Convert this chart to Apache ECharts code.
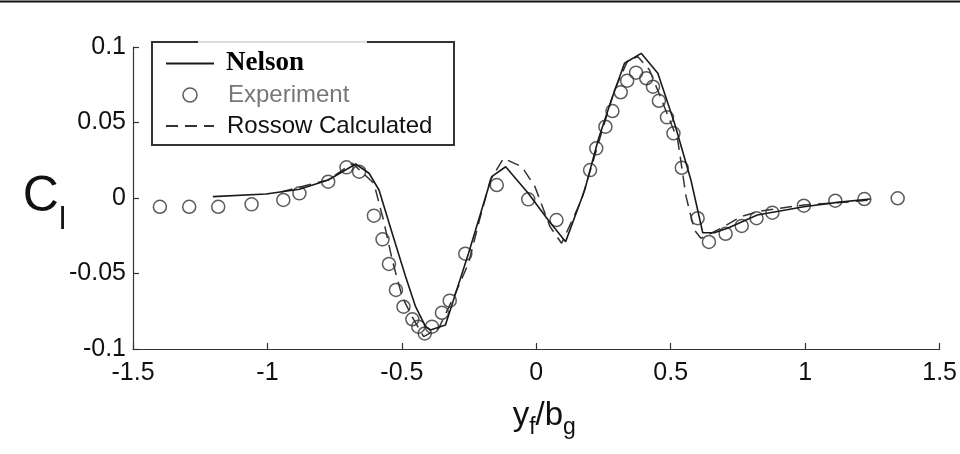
<!DOCTYPE html>
<html>
<head>
<meta charset="utf-8">
<script src="https://cdn.jsdelivr.net/npm/echarts@6/dist/echarts.min.js"></script>
<style>
html,body{margin:0;padding:0;background:#fff;}
#c{width:960px;height:454px;}
</style>
</head>
<body>
<div id="c"></div>
<script>
// Experiment (circles)
var expX = [-1.400,-1.291,-1.183,-1.059,-0.941,-0.881,-0.774,-0.706,-0.659,-0.604,-0.572,-0.548,-0.522,-0.494,-0.461,-0.439,-0.415,-0.388,-0.351,-0.322,-0.264,-0.147,-0.030,0.075,0.200,0.223,0.257,0.283,0.314,0.338,0.371,0.409,0.434,0.456,0.486,0.510,0.541,0.600,0.642,0.704,0.764,0.819,0.878,0.995,1.112,1.220,1.344];
var expY = [-0.0058,-0.0058,-0.0058,-0.0042,-0.0013,0.0031,0.0108,0.0203,0.0174,-0.0117,-0.0274,-0.0437,-0.0609,-0.0720,-0.0803,-0.0852,-0.0897,-0.0852,-0.0760,-0.0680,-0.0369,0.0086,-0.0009,-0.0146,0.0185,0.0329,0.0472,0.0576,0.0700,0.0777,0.0830,0.0793,0.0737,0.0644,0.0534,0.0428,0.0200,-0.0134,-0.0291,-0.0237,-0.0185,-0.0134,-0.0097,-0.0051,-0.0018,-0.0007,-0.0002];
// Nelson (solid)
var nelsonX = [-1.203,-1.005,-0.881,-0.774,-0.705,-0.672,-0.622,-0.585,-0.536,-0.486,-0.449,-0.412,-0.394,-0.338,-0.252,-0.166,-0.114,-0.030,0.044,0.109,0.180,0.230,0.279,0.328,0.390,0.452,0.514,0.575,0.619,0.662,0.711,0.822,0.995,1.119,1.242];
var nelsonY = [0.0009,0.0026,0.0058,0.0119,0.0190,0.0225,0.0164,0.0053,-0.0234,-0.0521,-0.0720,-0.0852,-0.0874,-0.0841,-0.0366,0.0141,0.0207,0.0031,-0.0146,-0.0289,0.0053,0.0384,0.0649,0.0892,0.0958,0.0826,0.0495,0.0119,-0.0230,-0.0230,-0.0201,-0.0113,-0.0058,-0.0029,-0.0007];
// Rossow Calculated (dashed)
var rossowX = [-0.950,-0.774,-0.684,-0.604,-0.567,-0.536,-0.499,-0.462,-0.419,-0.363,-0.301,-0.252,-0.212,-0.171,-0.122,-0.054,-0.005,0.051,0.094,0.168,0.242,0.291,0.341,0.378,0.421,0.526,0.557,0.588,0.612,0.686,0.760,0.834,0.995,1.168,1.240];
var rossowY = [0.0040,0.0120,0.0230,0.0097,-0.0157,-0.0410,-0.0654,-0.0786,-0.0918,-0.0863,-0.0631,-0.0432,-0.0150,0.0119,0.0263,0.0207,0.0075,-0.0190,-0.0300,-0.0013,0.0428,0.0715,0.0914,0.0936,0.0848,0.0384,0.0009,-0.0212,-0.0267,-0.0201,-0.0124,-0.0086,-0.0046,-0.0025,-0.0013];
var seriesNames = ['Nelson','Experiment','Rossow Calculated'];

function zip(xs, ys){ return xs.map(function(x,i){ return [x, ys[i]]; }); }

var SANS = 'Liberation Sans, Arial, Helvetica, sans-serif';
var tickFont = {fontFamily:SANS, fontSize:25, color:'#111'};

var chart = echarts.init(document.getElementById('c'), null, {renderer:'canvas'});
chart.setOption({
  animation:false,
  backgroundColor:'#fff',
  grid:{left:133, right:17, top:47, bottom:105, containLabel:false},
  xAxis:{
    type:'value', min:-1.5, max:1.5, interval:0.5,
    axisLine:{show:true, onZero:false, lineStyle:{color:'#333', width:1.2}},
    axisTick:{show:true, inside:true, length:6, lineStyle:{color:'#333', width:1.2}},
    splitLine:{show:false},
    axisLabel:Object.assign({margin:12}, tickFont),
    name:'{m|y}{s|f}{m|/b}{s|g}',
    nameLocation:'middle', nameGap:56,
    nameTextStyle:{padding:[0,0,0,16], rich:{
      m:{fontFamily:SANS, fontSize:33, color:'#111', lineHeight:34, padding:[0,0,7,0], verticalAlign:'bottom'},
      s:{fontFamily:SANS, fontSize:23, color:'#111', lineHeight:23, verticalAlign:'bottom'}
    }}
  },
  yAxis:{
    type:'value', min:-0.1, max:0.1, interval:0.05,
    axisLine:{show:true, onZero:false, lineStyle:{color:'#333', width:1.2}},
    axisTick:{show:true, inside:true, length:6, lineStyle:{color:'#333', width:1.2}},
    splitLine:{show:false},
    axisLabel:Object.assign({margin:7}, tickFont),
    name:'{m|C}{s|l}',
    nameLocation:'middle', nameGap:67, nameRotate:0, nameMoveOverlap:false,
    nameTextStyle:{padding:[26,0,0,0], rich:{
      m:{fontFamily:SANS, fontSize:50, color:'#111', lineHeight:50, padding:[0,0,14,0], verticalAlign:'bottom'},
      s:{fontFamily:SANS, fontSize:32, color:'#111', lineHeight:32, verticalAlign:'bottom'}
    }}
  },
  legend:{
    show:true, orient:'vertical', left:165, top:50, itemGap:5, padding:0,
    itemWidth:48, itemHeight:14,
    data:[
      {name:seriesNames[0], itemStyle:{opacity:0}, textStyle:{fontFamily:'Liberation Serif, Times New Roman, serif', fontWeight:'bold', fontSize:27, lineHeight:26, color:'#000', padding:[0,0,0,7]}},
      {name:seriesNames[1], icon:'circle', itemStyle:{color:'#fff', borderColor:'#333', borderWidth:1.5}, textStyle:{fontFamily:SANS, fontSize:24, lineHeight:26, color:'#777', padding:[0,0,0,9]}},
      {name:seriesNames[2], itemStyle:{opacity:0}, textStyle:{fontFamily:SANS, fontSize:24, lineHeight:26, color:'#111', padding:[0,0,0,8]}}
    ]
  },
  graphic:[
    {type:'line', shape:{x1:0, y1:1.5, x2:960, y2:1.5}, style:{stroke:'#111', lineWidth:2}, z:100},
    {type:'rect', shape:{x:152, y:42, width:302, height:103}, style:{fill:'none', stroke:'#333', lineWidth:2}, z:100},
    {type:'line', shape:{x1:198, y1:42, x2:367, y2:42}, style:{stroke:'#ddd', lineWidth:2}, z:101}
  ],
  series:[
    {name:seriesNames[0], type:'line', data:zip(nelsonX, nelsonY), showSymbol:false, symbol:'none',
     lineStyle:{color:'#1a1a1a', width:1.6}, itemStyle:{color:'#1a1a1a'}, z:3},
    {name:seriesNames[1], type:'scatter', data:zip(expX, expY), symbol:'circle', symbolSize:13,
     itemStyle:{color:'rgba(255,255,255,0)', borderColor:'#333', borderWidth:1.5}, z:2},
    {name:seriesNames[2], type:'line', data:zip(rossowX, rossowY), showSymbol:false, symbol:'none',
     lineStyle:{color:'#333', width:1.5, type:[12,7]}, itemStyle:{color:'#333'}, z:2}
  ]
});
</script>
</body>
</html>
